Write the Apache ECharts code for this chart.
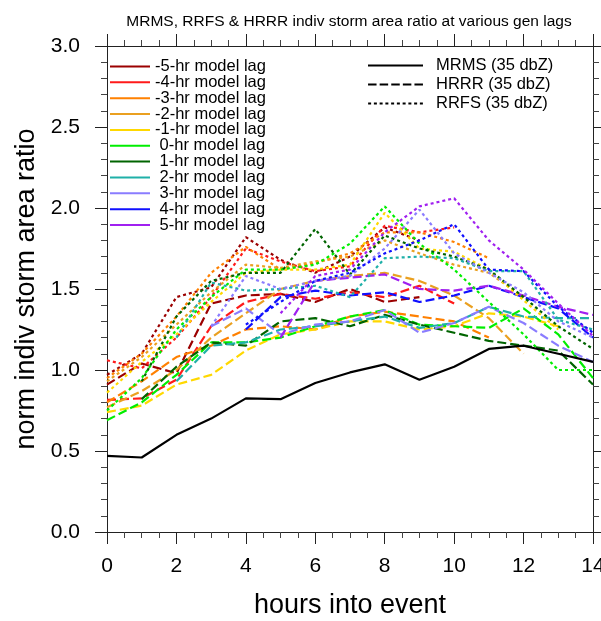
<!DOCTYPE html>
<html><head><meta charset="utf-8">
<script src="https://cdn.jsdelivr.net/npm/echarts@6/dist/echarts.min.js"></script>
<style>html,body{margin:0;padding:0;background:#fff}#c{width:601px;height:621px}</style>
</head><body><div id="c"></div>
<script>
var hours = [0,1,2,3,4,5,6,7,8,9,10,11,12,13,14];
var xTicks = [0,2,4,6,8,10,12,14];
var yTicks = [0.0,0.5,1.0,1.5,2.0,2.5,3.0];
var lagNames = ['-5-hr model lag','-4-hr model lag','-3-hr model lag','-2-hr model lag','-1-hr model lag',' 0-hr model lag',' 1-hr model lag',' 2-hr model lag',' 3-hr model lag',' 4-hr model lag',' 5-hr model lag'];
var lagColors = ['#9b0000','#ff1a1a','#ff8000','#eaa020','#ffd800','#00ee00','#006400','#1fb0a8','#8a7cff','#1010ff','#a020f0'];
var obsNames = ['MRMS (35 dbZ)','HRRR (35 dbZ)','RRFS (35 dbZ)'];

var mrms = [0.47,0.46,0.60,0.70,0.825,0.82,0.92,0.985,1.035,0.94,1.02,1.13,1.15,1.10,1.05];

// HRRR (dashed), by lag -5 .. +5
var hrrrM5 = [0.91,1.04,0.98,1.41,1.46,1.47,1.42,1.50,1.42,1.45,null,null,null,null,null];
var hrrrM4 = [0.815,0.825,0.94,1.27,1.42,1.47,1.44,1.48,1.45,1.52,1.41,null,null,null,null];
var hrrrM3 = [0.80,0.93,1.08,1.15,1.25,1.27,1.25,1.33,1.36,1.33,1.30,1.20,null,null,null];
var hrrrM2 = [0.77,0.87,1.00,1.20,1.35,1.50,1.55,1.58,1.60,1.55,1.46,1.32,1.10,null,null];
var hrrrM1 = [0.74,0.78,0.91,0.97,1.12,1.22,1.25,1.30,1.30,1.25,1.27,1.35,1.33,1.27,null];
var hrrr0  = [0.69,0.80,0.97,1.17,1.17,1.20,1.27,1.33,1.37,1.28,1.27,1.26,1.38,1.22,0.95];
var hrrrP1 = [null,0.82,1.02,1.17,1.15,1.30,1.32,1.27,1.34,1.28,1.23,1.18,1.15,1.12,0.91];
var hrrrP2 = [null,null,0.93,1.15,1.17,1.25,1.27,1.30,1.33,1.26,1.29,1.39,1.33,1.32,1.32];
var hrrrP3 = [null,null,null,1.27,1.38,1.22,1.28,1.30,1.37,1.23,1.29,1.39,1.29,1.15,1.05];
var hrrrP4 = [null,null,null,null,1.25,1.45,1.49,1.46,1.48,1.42,1.46,1.52,1.45,1.38,1.20];
var hrrrP5 = [null,null,null,null,null,1.20,1.55,1.57,1.59,1.50,1.49,1.52,1.46,1.39,1.34];

// RRFS (dotted), by lag -5 .. +5
var rrfsM5 = [0.97,1.10,1.45,1.51,1.82,1.68,1.60,1.70,1.88,1.80,null,null,null,null,null];
var rrfsM4 = [1.06,1.01,1.20,1.45,1.75,1.67,1.61,1.64,1.89,1.85,1.88,null,null,null,null];
var rrfsM3 = [0.95,1.10,1.33,1.60,1.76,1.62,1.66,1.72,1.85,1.85,1.79,1.69,null,null,null];
var rrfsM2 = [0.93,1.08,1.28,1.48,1.65,1.63,1.67,1.70,1.80,1.72,1.65,1.60,1.45,null,null];
var rrfsM1 = [0.86,1.05,1.22,1.42,1.60,1.62,1.62,1.65,1.97,1.75,1.73,1.62,1.43,1.25,null];
var rrfs0  = [0.75,0.95,1.25,1.45,1.62,1.62,1.65,1.78,2.01,1.78,1.62,1.42,1.22,1.00,1.00];
var rrfsP1 = [null,0.93,1.33,1.55,1.60,1.60,1.87,1.59,1.83,1.75,1.70,1.62,1.45,1.27,1.13];
var rrfsP2 = [null,null,1.20,1.54,1.49,1.50,1.52,1.45,1.69,1.70,1.69,1.61,1.61,1.31,1.25];
var rrfsP3 = [null,null,null,1.27,1.58,1.50,1.55,1.58,1.75,1.99,1.72,1.60,1.48,1.30,1.20];
var rrfsP4 = [null,null,null,null,1.28,1.42,1.55,1.60,1.72,1.80,1.90,1.62,1.61,1.39,1.23];
var rrfsP5 = [null,null,null,null,null,1.35,1.58,1.62,1.85,2.01,2.06,1.80,1.62,1.41,1.21];

var hrrrAll = [hrrrM5,hrrrM4,hrrrM3,hrrrM2,hrrrM1,hrrr0,hrrrP1,hrrrP2,hrrrP3,hrrrP4,hrrrP5];
var rrfsAll = [rrfsM5,rrfsM4,rrfsM3,rrfsM2,rrfsM1,rrfs0,rrfsP1,rrfsP2,rrfsP3,rrfsP4,rrfsP5];

var FONT = 'Liberation Sans, Arial, Helvetica, sans-serif';
var DASH = [9,4];
var DOT = [3,3];

function pairs(arr){ return hours.map(function(h,i){ return [h, arr[i]]; }); }

function barPath(total, dash, period){
  var s = 'path://';
  for (var x = 0; x < total - 0.01; x += period){
    var w = Math.min(dash, total - x);
    s += 'M' + x.toFixed(2) + ',0h' + w.toFixed(2) + 'v2h-' + w.toFixed(2) + 'z ';
  }
  return s;
}
var solidLag = barPath(40, 40, 40);
var obsIcons = [barPath(55,55,55), barPath(55,8.5,11.6), barPath(55,3,5.75)];

var series = [];
lagNames.forEach(function(n,i){
  series.push({name:n,type:'line',data:[],symbol:'none',lineStyle:{color:lagColors[i],width:2},itemStyle:{color:lagColors[i]}});
});
obsNames.forEach(function(n,i){
  series.push({name:n,type:'line',data:[],symbol:'none',lineStyle:{color:'#000',width:2},itemStyle:{color:'#000'}});
});
series.push({type:'line',data:pairs(mrms),symbol:'none',silent:true,z:5,lineStyle:{color:'#000',width:2.2,type:'solid'}});
hrrrAll.forEach(function(a,i){
  series.push({type:'line',data:pairs(a),symbol:'none',silent:true,connectNulls:false,lineStyle:{color:lagColors[i],width:2.2,type:DASH}});
});
rrfsAll.forEach(function(a,i){
  series.push({type:'line',data:pairs(a),symbol:'none',silent:true,connectNulls:false,lineStyle:{color:lagColors[i],width:2.2,type:DOT}});
});

function xAx(pos, showLabel){
  return {type:'value',position:pos,min:xTicks[0],max:xTicks[xTicks.length-1],interval:2,
    axisLine:{show:true,onZero:false,lineStyle:{color:'#222',width:1}},
    axisTick:{show:true,length:12,lineStyle:{color:'#222'}},
    minorTick:{show:true,splitNumber:4,length:6,lineStyle:{color:'#444'}},
    splitLine:{show:false},
    axisLabel:{show:showLabel,fontSize:21,color:'#000',fontFamily:FONT,margin:24},
    name:showLabel?'hours into event':'',nameLocation:'middle',nameGap:60,
    nameTextStyle:{fontSize:27,color:'#000',fontFamily:FONT}};
}
function yAx(pos, showLabel){
  return {type:'value',position:pos,min:yTicks[0],max:yTicks[yTicks.length-1],interval:0.5,
    axisLine:{show:true,onZero:false,lineStyle:{color:'#222',width:1}},
    axisTick:{show:true,length:12,lineStyle:{color:'#222'}},
    minorTick:{show:true,splitNumber:5,length:6,lineStyle:{color:'#444'}},
    splitLine:{show:false},
    axisLabel:{show:showLabel,fontSize:21,color:'#000',fontFamily:FONT,margin:27,formatter:function(v){return v.toFixed(1);}},
    name:showLabel?'norm indiv storm area ratio':'',nameLocation:'middle',nameGap:62,nameRotate:90,
    nameTextStyle:{fontSize:27,color:'#000',fontFamily:FONT}};
}

var chart = echarts.init(document.getElementById('c'), null, {renderer:'canvas'});
chart.setOption({
  animation:false,
  backgroundColor:'#fff',
  title:{text:'MRMS, RRFS & HRRR indiv storm area ratio at various gen lags',left:344,textAlign:'center',top:9,
    textStyle:{fontSize:15.5,fontWeight:'normal',color:'#000',fontFamily:FONT}},
  grid:{left:107,right:8,top:46,bottom:89,containLabel:false,outerBoundsMode:'none'},
  xAxis:[xAx('bottom',true), xAx('top',false)],
  yAxis:[yAx('left',true), yAx('right',false)],
  legend:[
    {data:lagNames.map(function(n){return {name:n,icon:solidLag};}),orient:'vertical',left:110,top:58,padding:0,
     itemWidth:40,itemHeight:2,itemGap:-1.15,selectedMode:false,
     textStyle:{fontSize:16.5,color:'#000',fontFamily:FONT}},
    {data:obsNames.map(function(n,i){return {name:n,icon:obsIcons[i]};}),orient:'vertical',left:368,top:57,padding:0,
     itemWidth:55,itemHeight:2,itemGap:2,selectedMode:false,
     textStyle:{fontSize:16.5,color:'#000',fontFamily:FONT,padding:[0,0,0,8]}}
  ],
  series:series
});
</script></body></html>
